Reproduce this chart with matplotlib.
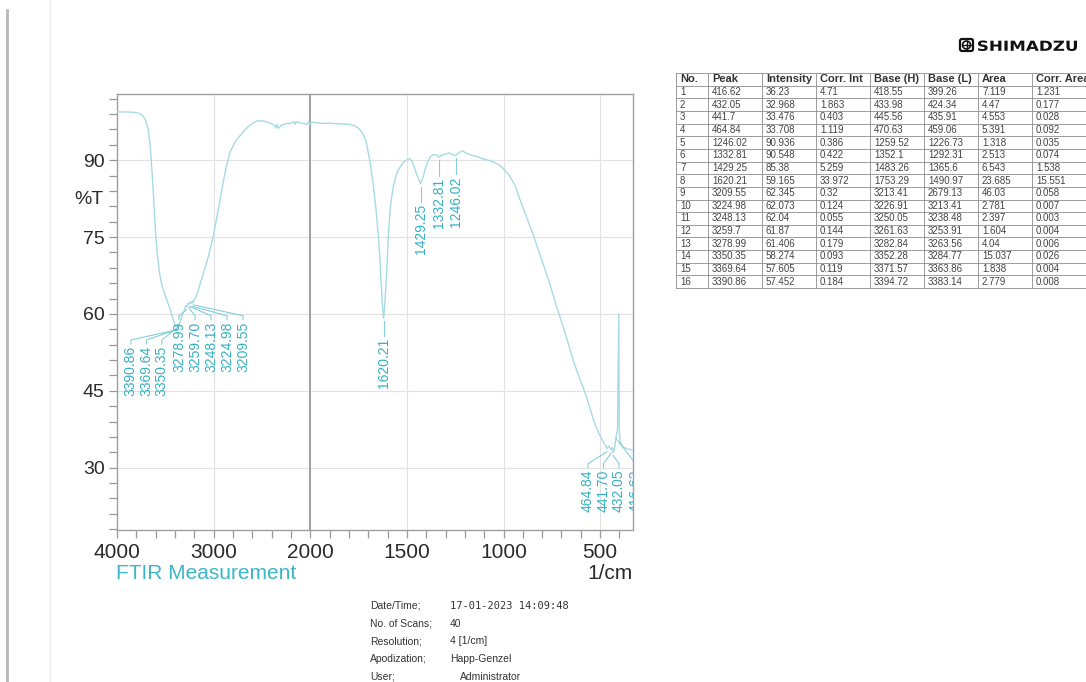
import numpy as np
import matplotlib
matplotlib.use("Agg")
import matplotlib.pyplot as plt
from matplotlib.textpath import TextPath
from matplotlib.font_manager import FontProperties
from matplotlib.patches import PathPatch, FancyBboxPatch, Circle
from matplotlib.transforms import Affine2D

plt.rcParams['font.family'] = ['Liberation Sans', 'DejaVu Sans']

# spectrum (wavenumber 1/cm, %T)
wavenumber = [4000, 3900, 3800, 3760, 3730, 3705, 3680, 3660, 3644, 3630, 3615, 3600,
              3580, 3560, 3540, 3500, 3455, 3420, 3400, 3390.86, 3380, 3369.64, 3360,
              3350.35, 3330, 3300, 3290, 3278.99, 3268, 3259.7, 3253, 3248.13, 3236,
              3224.98, 3216, 3209.55, 3180, 3150, 3100, 3050, 3000, 2950, 2900, 2870,
              2830, 2780, 2730, 2680, 2620, 2560, 2500, 2440, 2400, 2370, 2355, 2345,
              2330, 2300, 2250, 2200, 2170, 2160, 2145, 2100, 2050, 2030, 2015, 2000,
              1990, 1950, 1900, 1850, 1800, 1770, 1750, 1730, 1710, 1690, 1675, 1660,
              1645, 1633, 1626, 1620.21, 1614, 1605, 1595, 1585, 1570, 1550, 1520,
              1495, 1485, 1470, 1450, 1429.25, 1415, 1400, 1380, 1365, 1345, 1332.81,
              1320, 1300, 1280, 1260, 1246.02, 1230, 1212, 1195, 1170, 1140, 1110,
              1080, 1050, 1020, 1000, 970, 940, 910, 880, 850, 820, 790, 763, 730, 700,
              675, 640, 610, 582, 560, 540, 520, 500, 480, 464.84, 455, 441.7, 437,
              432.05, 425, 416.62, 410, 404, 401, 396, 385, 370, 350, 330]
transmittance = [99.4, 99.4, 99.3, 99.0, 98.6, 97.8, 96.2, 93.5, 89.5, 85.5, 80.5, 75.5,
                 71.0, 68.0, 66.0, 63.5, 61.2, 59.0, 57.9, 57.452, 57.7, 57.605, 58.0,
                 58.274, 59.5, 60.8, 61.6, 61.406, 62.0, 61.87, 62.2, 62.04, 62.4,
                 62.073, 62.5, 62.345, 63.5, 65.2, 68.3, 71.5, 75.5, 80.5, 85.8, 88.7,
                 91.5, 93.5, 94.7, 95.8, 96.9, 97.6, 97.7, 97.4, 97.1, 96.8, 96.3, 97.0,
                 96.2, 96.8, 97.1, 97.2, 97.5, 97.0, 97.5, 97.2, 97.1, 96.9, 97.6, 97.0,
                 97.4, 97.2, 97.2, 97.1, 97.0, 96.7, 96.2, 95.3, 93.5, 89.5, 85.5, 80.5,
                 74.0, 66.0, 61.5, 59.165, 62.0, 68.0, 76.0, 81.0, 85.0, 87.8, 89.5,
                 90.2, 90.3, 89.5, 87.3, 85.38, 86.8, 89.0, 90.6, 91.1, 91.0, 90.548,
                 91.0, 91.2, 91.4, 91.0, 90.936, 91.5, 91.8, 91.4, 91.0, 90.7, 90.3,
                 90.0, 89.6, 89.0, 88.3, 87.0, 85.0, 81.8, 78.8, 75.8, 72.5, 69.2, 66.2,
                 62.0, 58.5, 55.5, 51.0, 47.8, 45.0, 42.5, 40.0, 37.8, 36.2, 34.8, 33.708,
                 34.2, 33.476, 34.0, 32.968, 34.0, 36.23, 37.5, 60.0, 37.0, 35.0, 34.2,
                 33.8, 33.6, 33.4]

# peak table
peak_no = list(range(1, 17))
peak = [416.62, 432.05, 441.7, 464.84, 1246.02, 1332.81, 1429.25, 1620.21, 3209.55,
        3224.98, 3248.13, 3259.7, 3278.99, 3350.35, 3369.64, 3390.86]
intensity = [36.23, 32.968, 33.476, 33.708, 90.936, 90.548, 85.38, 59.165, 62.345,
             62.073, 62.04, 61.87, 61.406, 58.274, 57.605, 57.452]
corr_int = [4.71, 1.863, 0.403, 1.119, 0.386, 0.422, 5.259, 33.972, 0.32, 0.124, 0.055,
            0.144, 0.179, 0.093, 0.119, 0.184]
base_h = [418.55, 433.98, 445.56, 470.63, 1259.52, 1352.1, 1483.26, 1753.29, 3213.41,
          3226.91, 3250.05, 3261.63, 3282.84, 3352.28, 3371.57, 3394.72]
base_l = [399.26, 424.34, 435.91, 459.06, 1226.73, 1292.31, 1365.6, 1490.97, 2679.13,
          3213.41, 3238.48, 3253.91, 3263.56, 3284.77, 3363.86, 3383.14]
area = [7.119, 4.47, 4.553, 5.391, 1.318, 2.513, 6.543, 23.685, 46.03, 2.781, 2.397,
        1.604, 4.04, 15.037, 1.838, 2.779]
corr_area = [1.231, 0.177, 0.028, 0.092, 0.035, 0.074, 1.538, 15.551, 0.058, 0.007,
             0.003, 0.004, 0.006, 0.026, 0.004, 0.008]
table_headers = ['No.', 'Peak', 'Intensity', 'Corr. Int', 'Base (H)', 'Base (L)',
                 'Area', 'Corr. Area']

x_major = [4000, 3000, 2000, 1500, 1000, 500]
y_major = [30, 45, 60, 75, 90]

info_labels = ['Date/Time;', 'No. of Scans;', 'Resolution;', 'Apodization;', 'User;']
info_values = ['17-01-2023 14:09:48', '40', '4 [1/cm]', 'Happ-Genzel', 'Administrator']

line_col = '#a6dbe4'
label_col = '#36b2c2'
W, H = 1086, 682


# wavenumber axis: 4000-2000 drawn at half the scale of 2000-400
def fwd(x):
    x = np.asarray(x, dtype=float)
    return np.where(x > 2000, 2000 + (x - 2000) / 2, x)


def inv(y):
    y = np.asarray(y, dtype=float)
    return np.where(y > 2000, 2000 + 2 * (y - 2000), y)


fig = plt.figure(figsize=(W / 100, H / 100), dpi=100)
ax = fig.add_axes([117 / W, 1 - 530 / H, 516 / W, 436 / H])
ax.set_xscale('function', functions=(fwd, inv))
ax.set_xlim(4000, 330)
ax.set_ylim(17.85, 102.9)

ax.plot(wavenumber, transmittance, color=line_col, lw=1.0, zorder=3)

minor_x = [v for v in list(range(3800, 2000, -200)) + list(range(1900, 300, -100))
           if v not in x_major]
ax.set_xticks(x_major)
ax.set_xticks(minor_x, minor=True)
ax.set_yticks(y_major)
ax.set_yticks([v for v in range(18, 103, 3) if v not in y_major], minor=True)
ax.tick_params(which='both', direction='out', length=6, width=0.9, color='#9a9a9a')
ax.tick_params(axis='x', labelsize=15, labelcolor='#2a2a2a', pad=3)
ax.tick_params(axis='y', labelsize=14, labelcolor='#2a2a2a', pad=3)
ax.grid(True, which='major', color='#e2e2e2', lw=0.8)
ax.axvline(2000, color='#9c9c9c', lw=1.3, zorder=2)
for s in ax.spines.values():
    s.set_color('#a0a0a0')
    s.set_linewidth(1.0)

# peak labels with leader lines, grouped like the instrument printout
# (peak indices, x offset of first label, drop below peak, spacing) in pixels
groups = [([15, 14, 13], -45, 19, 15.5),
          ([12, 11, 10, 9, 8], -7.7, 15, 16),
          ([7], 0, 20, 0), ([6], 0, 20, 0), ([5], 0, 21, 0), ([4], 0, 21, 0),
          ([3, 2, 1], -19, 21, 15.5),
          ([0], 19.5, 34, 0)]
to_data = ax.transData.inverted()
for idx, dx, dy, step in groups:
    x0, y0 = ax.transData.transform((peak[idx[0]], intensity[idx[0]]))
    top = y0 - dy
    for k, i in enumerate(idx):
        px, py = ax.transData.transform((peak[i], intensity[i]))
        lx = x0 + dx + k * step
        pts = to_data.transform([(lx, top + 2), (lx, top + 6), (px, py - 3)])
        ax.plot(pts[:, 0], pts[:, 1], color='#86cfda', lw=0.8, zorder=4)
        tx, ty = to_data.transform((lx, top))
        ax.text(tx, ty, f'{peak[i]:.2f}', rotation=90, ha='center', va='top',
                fontsize=10, color=label_col, zorder=5, clip_on=True)

# page decorations in pixel coordinates
ov = fig.add_axes([0, 0, 1, 1])
ov.set_xlim(0, W)
ov.set_ylim(H, 0)
ov.axis('off')

ov.plot([7, 7], [10, H], color='#b8b8b8', lw=2)
ov.plot([50, 50], [0, H], color='#ededed', lw=1)

ov.text(89, 200, '%T', fontsize=14, color='#2a2a2a', ha='center', va='center')
ov.text(116, 579, 'FTIR Measurement', fontsize=15, color='#3cb6c6', ha='left',
        va='baseline')
ov.text(633, 579, '1/cm', fontsize=15, color='#2a2a2a', ha='right', va='baseline')

for r, (lab, val) in enumerate(zip(info_labels, info_values)):
    y = 606 + r * 17.7
    ov.text(370, y, lab, fontsize=7.5, color='#333333', va='center')
    fam = 'DejaVu Sans Mono' if r == 0 else None
    ov.text(460 if val == 'Administrator' else 450, y, val, fontsize=7.5,
            family=fam, color='#333333', va='center')

# peak table
cols = [peak_no, peak, intensity, corr_int, base_h, base_l, area, corr_area]
col_x = [676, 708, 762, 816, 870, 924, 978, 1032, 1110]
top_y, row_h = 73, 12.65
n_rows = len(peak) + 1
for r in range(n_rows + 1):
    y = top_y + r * row_h
    ov.plot([col_x[0], col_x[-1]], [y, y], color='#8c8c8c', lw=0.6, clip_on=False)
for x in col_x[:-1]:
    ov.plot([x, x], [top_y, top_y + n_rows * row_h], color='#8c8c8c', lw=0.6,
            clip_on=False)
for c, (head, values) in enumerate(zip(table_headers, cols)):
    ov.text(col_x[c] + 4, top_y + row_h / 2, head, fontsize=8, fontweight='bold',
            color='#333333', va='center', clip_on=False)
    for r, v in enumerate(values):
        ov.text(col_x[c] + 4, top_y + (r + 1.5) * row_h, str(v), fontsize=7,
                color='#444444', va='center', clip_on=False)

# SHIMADZU logo
tp = TextPath((0, 0), 'SHIMADZU', size=1,
              prop=FontProperties(family='DejaVu Sans', weight='bold'))
ext = tp.get_extents()
tr = (Affine2D().translate(-ext.x0, -ext.y0)
      .scale(99 / ext.width, -10.5 / ext.height).translate(978, 51))
ov.add_patch(PathPatch(tr.transform_path(tp), color='#111111', lw=0))
ov.add_patch(FancyBboxPatch((960, 39), 13, 12, boxstyle='round,pad=0,rounding_size=2',
                            fill=False, ec='#111111', lw=1.6))
ov.add_patch(Circle((966.5, 45), 4.0, fill=False, ec='#111111', lw=1.2))
ov.plot([962.5, 970.5], [45, 45], color='#111111', lw=1.0)
ov.plot([966.5, 966.5], [41, 49], color='#111111', lw=1.0)

fig.savefig('out.png', dpi=100)
